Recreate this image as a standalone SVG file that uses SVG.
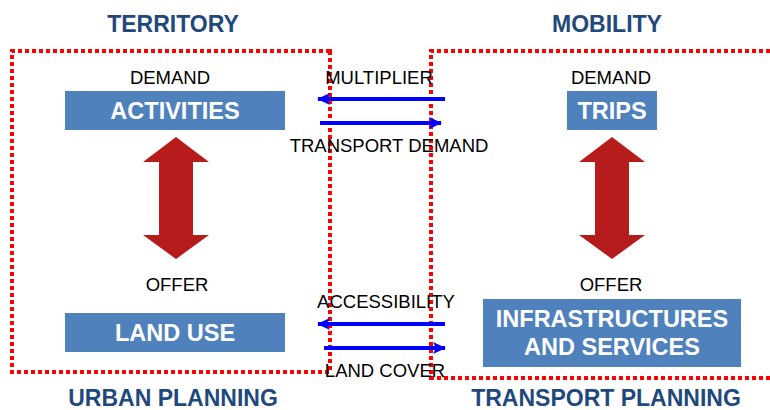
<svg xmlns="http://www.w3.org/2000/svg" width="770" height="410" viewBox="0 0 770 410">
  <style>
    .head { font-family: "Liberation Sans", Arial, sans-serif; font-weight: bold; font-size: 23px; fill: #1F497D; text-anchor: middle; }
    .lab { font-family: "Liberation Sans", Arial, sans-serif; font-size: 18.5px; fill: #000; text-anchor: middle; }
    .box { fill: #4F81BD; }
    .boxt { font-family: "Liberation Sans", Arial, sans-serif; font-weight: bold; font-size: 23.5px; fill: #fff; text-anchor: middle; }
    .zone { fill: none; stroke: #FF0000; stroke-width: 4; stroke-dasharray: 4 3; }
    .flow { stroke: #0000FF; stroke-width: 4; fill: none; }
    .dbl { fill: #B71C1C; }
  </style>
  <defs>
    <marker id="ah" markerUnits="userSpaceOnUse" markerWidth="14" markerHeight="14" refX="12" refY="7" orient="auto">
      <path d="M0,1 L13,7 L0,13 L3,7 Z" fill="#0000FF"/>
    </marker>
  </defs>

  <rect width="770" height="410" fill="#fff"/>

  <!-- planning zones -->
  <g id="zones">
    <path class="zone" d="M330,51 L12,51 L12,372 L330,372 Z"/>
    <path class="zone" d="M770,51 L431,51 L431,378 L770,378"/>
  </g>

  <!-- section titles -->
  <text class="head" x="173" y="32">TERRITORY</text>
  <text class="head" x="607" y="32">MOBILITY</text>
  <text class="head" x="173" y="406">URBAN PLANNING</text>
  <text class="head" x="606" y="406">TRANSPORT PLANNING</text>

  <!-- level labels -->
  <text class="lab" x="170" y="84">DEMAND</text>
  <text class="lab" x="611" y="84">DEMAND</text>
  <text class="lab" x="177" y="291">OFFER</text>
  <text class="lab" x="611" y="291">OFFER</text>

  <g id="activities">
    <rect class="box" x="65" y="91" width="220" height="39"/>
    <text class="boxt" x="175" y="119">ACTIVITIES</text>
  </g>
  <g id="trips">
    <rect class="box" x="567" y="91" width="90" height="39"/>
    <text class="boxt" x="612" y="119">TRIPS</text>
  </g>
  <g id="land-use">
    <rect class="box" x="65" y="313" width="220" height="39"/>
    <text class="boxt" x="175" y="341">LAND USE</text>
  </g>
  <g id="infrastructures">
    <rect class="box" x="483" y="299" width="258" height="68"/>
    <text class="boxt" x="612" y="327">INFRASTRUCTURES</text>
    <text class="boxt" x="612" y="355">AND SERVICES</text>
  </g>

  <!-- connectors -->
  <g id="connectors">
    <path class="dbl" d="M176,137 L209,162 L193,162 L193,235 L209,235 L176,259 L143,235 L159,235 L159,162 L143,162 Z"/>
    <path class="dbl" d="M612,137 L645,162 L629,162 L629,235 L645,235 L612,259 L579,235 L595,235 L595,162 L579,162 Z"/>
    <line class="flow" x1="445" y1="99" x2="318" y2="99" marker-end="url(#ah)"/>
    <line class="flow" x1="320" y1="123" x2="441" y2="123" marker-end="url(#ah)"/>
    <line class="flow" x1="445" y1="324" x2="318" y2="324" marker-end="url(#ah)"/>
    <line class="flow" x1="324" y1="348" x2="445" y2="348" marker-end="url(#ah)"/>
  </g>

  <!-- flow labels -->
  <text class="lab" x="379" y="84">MULTIPLIER</text>
  <text class="lab" x="389" y="152">TRANSPORT DEMAND</text>
  <text class="lab" x="386" y="308">ACCESSIBILITY</text>
  <text class="lab" x="385" y="377">LAND COVER</text>
</svg>
